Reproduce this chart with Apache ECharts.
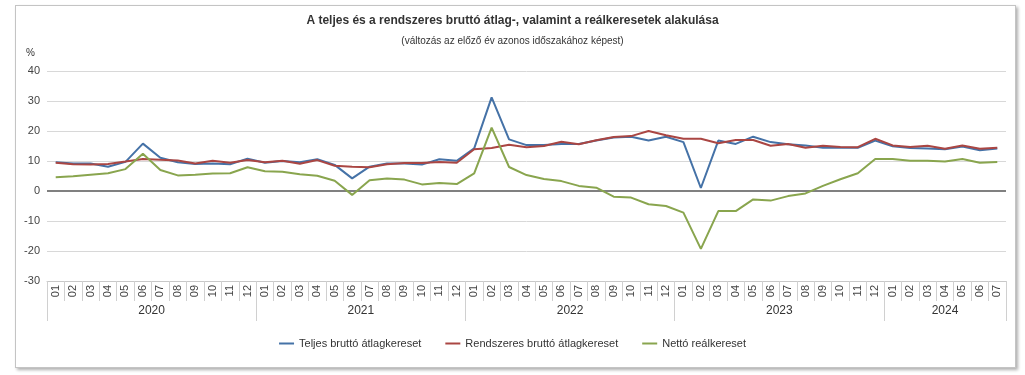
<!DOCTYPE html>
<html>
<head>
<meta charset="utf-8">
<script src="https://cdn.jsdelivr.net/npm/echarts@6/dist/echarts.min.js"></script>
<style>
html,body{margin:0;padding:0;background:#fff;}
#frame{position:absolute;left:15px;top:5px;width:999px;height:361px;border:1px solid #c4c4c4;box-shadow:2px 2px 3px #b0b0b0;background:#fff;}
#chart{position:absolute;left:0;top:0;width:1025px;height:375px;}
</style>
</head>
<body>
<div id="frame"></div>
<div id="chart"></div>
<script>
const years = ['2020', '2021', '2022', '2023', '2024'];
const yearMonthCounts = [12, 12, 12, 12, 7];
const monthLabels = ['01','02','03','04','05','06','07','08','09','10','11','12'];

const seriesNames = ['Teljes bruttó átlagkereset', 'Rendszeres bruttó átlagkereset', 'Nettó reálkereset'];

const teljes = [9.6,9.2,9.2,8.1,9.7,15.8,11.1,9.6,9.0,9.2,8.9,10.8,
  9.4,10.0,9.6,10.6,8.7,4.2,8.1,9.2,9.2,8.8,10.6,10.1,
  14.2,31.2,17.2,15.3,15.3,15.7,15.7,16.8,17.8,18.1,16.8,18.1,
  16.3,1.0,16.8,15.7,18.1,16.3,15.6,15.2,14.4,14.4,14.4,16.8,
  14.9,14.3,14.2,13.9,14.8,13.6,14.2];

const rendszeres = [9.4,8.9,8.8,9.0,9.8,10.7,10.4,10.2,9.2,10.1,9.4,10.3,
  9.6,10.1,9.1,10.3,8.4,8.1,7.9,8.9,9.3,9.3,9.7,9.4,
  13.9,14.3,15.4,14.6,15.0,16.4,15.6,16.9,18.0,18.3,20.0,18.6,
  17.4,17.4,15.9,17.0,17.0,15.1,15.7,14.4,15.1,14.7,14.6,17.4,
  15.2,14.7,15.1,14.1,15.2,14.1,14.4];

const netto = [4.6,4.9,5.4,5.9,7.3,12.4,7.0,5.2,5.4,5.8,5.9,7.9,
  6.6,6.4,5.6,5.1,3.4,-1.3,3.6,4.2,3.8,2.2,2.7,2.3,
  5.9,21.1,8.0,5.3,4.0,3.3,1.7,1.1,-1.9,-2.2,-4.4,-5.0,
  -7.2,-19.3,-6.7,-6.7,-2.8,-3.2,-1.7,-0.8,1.7,3.9,5.9,10.7,
  10.7,10.1,10.1,9.8,10.7,9.4,9.7];

const yTicks = {min: -30, max: 40, interval: 10};

// build categories
const categories = [];
const yearBounds = [0];
const yearCenters = [];
let pos = 0;
years.forEach((y, yi) => {
  const n = yearMonthCounts[yi];
  for (let m = 0; m < n; m++) categories.push(monthLabels[m]);
  yearCenters.push(pos + n / 2);
  pos += n;
  yearBounds.push(pos);
});

const colors = ['#4572A7', '#AA4643', '#89A54E'];
const font = 'Liberation Sans, Arial, sans-serif';

const chart = echarts.init(document.getElementById('chart'), null, {renderer: 'canvas'});
chart.setOption({
  animation: false,
  textStyle: {fontFamily: font},
  title: [
    {text: 'A teljes és a rendszeres bruttó átlag-, valamint a reálkeresetek alakulása',
     left: 'center', top: 10,
     textStyle: {fontSize: 12, fontWeight: 'bold', color: '#333', fontFamily: font}},
    {text: '(változás az előző év azonos időszakához képest)',
     left: 'center', top: 31,
     textStyle: {fontSize: 10, fontWeight: 'normal', color: '#333', fontFamily: font}}
  ],
  legend: {
    bottom: 21,
    left: 'center',
    icon: 'rect',
    itemWidth: 15,
    itemHeight: 2,
    itemGap: 24,
    textStyle: {fontSize: 11, color: '#333', fontFamily: font},
    data: seriesNames
  },
  grid: {left: 47, right: 19, top: 71, bottom: 94, containLabel: false},
  xAxis: [
    {
      type: 'category',
      data: categories,
      boundaryGap: true,
      position: 'bottom',
      axisLine: {show: true, onZero: false, lineStyle: {color: '#c8c8c8', width: 1}},
      axisTick: {show: true, interval: 0, length: 20, lineStyle: {color: '#d0d0d0'}},
      axisLabel: {interval: 0, rotate: 90, margin: 4, fontSize: 11, color: '#444', fontFamily: font},
      splitLine: {show: false}
    },
    {
      type: 'value',
      min: 0,
      max: categories.length,
      position: 'bottom',
      offset: 20,
      axisLine: {show: false, onZero: false},
      axisTick: {show: true, customValues: yearBounds, length: 20, lineStyle: {color: '#d0d0d0'}},
      axisLabel: {
        customValues: yearCenters,
        margin: 4,
        fontSize: 12,
        color: '#333',
        fontFamily: font,
        formatter: function (v) {
          const i = yearCenters.indexOf(v);
          return i >= 0 ? years[i] : '';
        }
      },
      splitLine: {show: false}
    }
  ],
  yAxis: {
    type: 'value',
    min: yTicks.min,
    max: yTicks.max,
    interval: yTicks.interval,
    name: '%',
    nameLocation: 'end',
    nameGap: 13,
    nameTextStyle: {align: 'right', padding: [0, 12, 0, 0], fontSize: 10, color: '#333', fontFamily: font},
    axisLine: {show: false},
    axisTick: {show: false},
    axisLabel: {margin: 7, fontSize: 11, color: '#444', fontFamily: font},
    splitLine: {show: true, lineStyle: {color: '#d8d8d8', width: 1}}
  },
  series: [
    {
      name: seriesNames[0], type: 'line', data: teljes, color: colors[0],
      showSymbol: false, symbol: 'none', lineStyle: {width: 2}, z: 3,
      markLine: {
        silent: true, symbol: 'none', label: {show: false},
        lineStyle: {color: '#808080', width: 2, type: 'solid'},
        data: [{yAxis: 0}], z: 1
      }
    },
    {
      name: seriesNames[1], type: 'line', data: rendszeres, color: colors[1],
      showSymbol: false, symbol: 'none', lineStyle: {width: 2}, z: 3
    },
    {
      name: seriesNames[2], type: 'line', data: netto, color: colors[2],
      showSymbol: false, symbol: 'none', lineStyle: {width: 2}, z: 3
    }
  ]
});
</script>
</body>
</html>
